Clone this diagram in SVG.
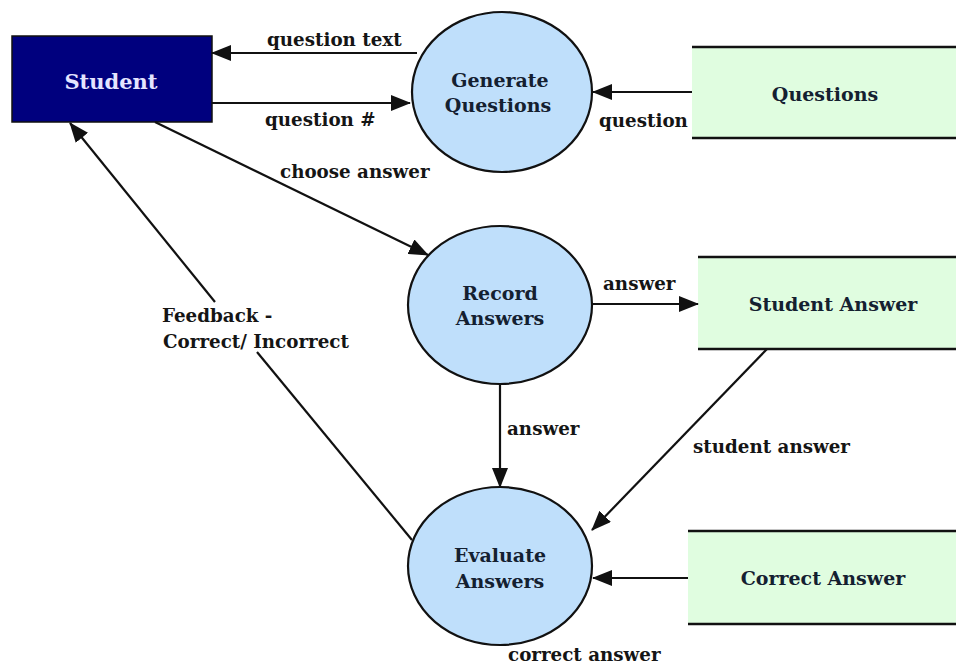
<svg xmlns="http://www.w3.org/2000/svg" width="956" height="667" viewBox="0 0 956 667">
<style>
.lbl{font-family:"DejaVu Serif","Liberation Serif",serif;font-weight:bold;font-size:18.3px;fill:#151515}
.nt{font-family:"DejaVu Serif","Liberation Serif",serif;font-weight:bold;font-size:19px;fill:#142030;text-anchor:middle}
.proc{fill:#bfdffb;stroke:#111;stroke-width:2.2}
.store{fill:#e0fde0}
.sline{stroke:#111;stroke-width:2.5}
.con{stroke:#111;stroke-width:2.2;fill:none}
</style>
<defs>
<marker id="ah" markerUnits="userSpaceOnUse" markerWidth="20" markerHeight="16" refX="19" refY="8" orient="auto">
<path d="M0,0 L20,8 L0,16 z" fill="#111"/>
</marker>
</defs>
<rect width="956" height="667" fill="#fff"/>
<g id="student">
<rect x="12" y="36" width="200" height="86" fill="#00007e" stroke="#111" stroke-width="1.5"/>
<text x="111" y="89" class="nt" style="fill:#e4e4ff;font-size:21px">Student</text>
</g>
<g id="generate-questions">
<ellipse cx="502" cy="92" rx="90" ry="80" class="proc"/>
<text class="nt" x="500" y="87">Generate</text>
<text class="nt" x="498" y="112">Questions</text>
</g>
<g id="record-answers">
<ellipse cx="500" cy="305" rx="92" ry="79" class="proc"/>
<text class="nt" x="500" y="300">Record</text>
<text class="nt" x="500" y="325">Answers</text>
</g>
<g id="evaluate-answers">
<ellipse cx="500" cy="566" rx="92" ry="79" class="proc"/>
<text class="nt" x="500" y="562">Evaluate</text>
<text class="nt" x="500" y="588">Answers</text>
</g>
<g id="questions-store">
<rect x="692" y="47" width="264" height="91" class="store"/>
<line x1="692" y1="47" x2="956" y2="47" class="sline"/>
<line x1="692" y1="138" x2="956" y2="138" class="sline"/>
<text class="nt" x="825" y="101">Questions</text>
</g>
<g id="student-answer-store">
<rect x="698" y="257" width="258" height="92" class="store"/>
<line x1="698" y1="257" x2="956" y2="257" class="sline"/>
<line x1="698" y1="349" x2="956" y2="349" class="sline"/>
<text class="nt" x="833" y="311">Student Answer</text>
</g>
<g id="correct-answer-store">
<rect x="688" y="531" width="268" height="93" class="store"/>
<line x1="688" y1="531" x2="956" y2="531" class="sline"/>
<line x1="688" y1="624" x2="956" y2="624" class="sline"/>
<text class="nt" x="823" y="585">Correct Answer</text>
</g>
<g id="connectors">
<path class="con" d="M417,53 L212,53" marker-end="url(#ah)"/>
<path class="con" d="M212,103 L410,103" marker-end="url(#ah)"/>
<path class="con" d="M692,92 L593,92" marker-end="url(#ah)"/>
<path class="con" d="M155,122 L428,255" marker-end="url(#ah)"/>
<path class="con" d="M592,304 L698,304" marker-end="url(#ah)"/>
<path class="con" d="M500,384 L500,487" marker-end="url(#ah)"/>
<path class="con" d="M767,349 L592,530" marker-end="url(#ah)"/>
<path class="con" d="M688,578 L593,578" marker-end="url(#ah)"/>
<path class="con" d="M412,540 L257,352"/>
<path class="con" d="M215,302 L70,123" marker-end="url(#ah)"/>
</g>
<g id="labels">
<text class="lbl" x="267" y="46">question text</text>
<text class="lbl" x="265" y="126">question #</text>
<text class="lbl" x="599" y="127">question</text>
<text class="lbl" x="280" y="178">choose answer</text>
<text class="lbl" x="603" y="290">answer</text>
<text class="lbl" x="507" y="435">answer</text>
<text class="lbl" x="693" y="453">student answer</text>
<text class="lbl" x="508" y="661">correct answer</text>
<text class="lbl" x="162" y="322">Feedback -</text>
<text class="lbl" x="163" y="348">Correct/ Incorrect</text>
</g>
</svg>
